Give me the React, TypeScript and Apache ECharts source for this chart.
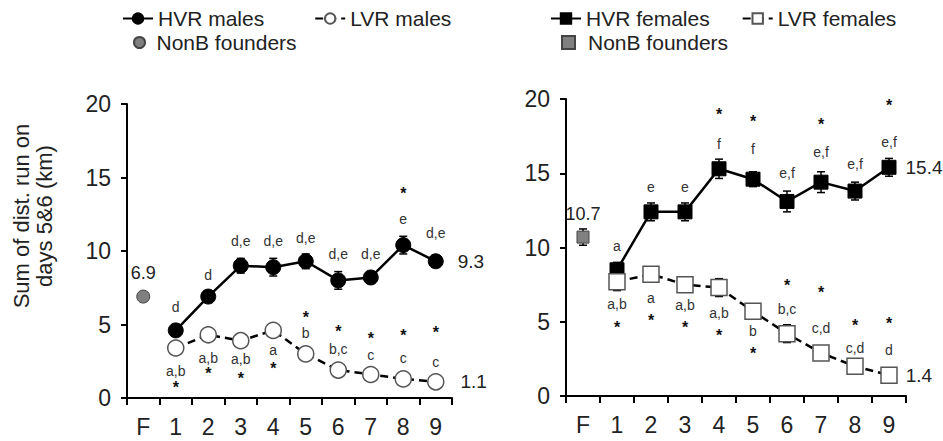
import React, { useEffect, useRef } from "react";
import * as echarts from "echarts";

const categories = ["F", "1", "2", "3", "4", "5", "6", "7", "8", "9"];
const yTicks = { min: 0, max: 20, interval: 5 };

// Males (left panel), generations 1..9
const hvrMales = [4.6, 6.9, 9.0, 8.9, 9.3, 8.0, 8.2, 10.4, 9.3];
const hvrMalesErr = [0.4, 0.4, 0.5, 0.6, 0.5, 0.6, 0.4, 0.6, 0.4];
const lvrMales = [3.4, 4.3, 3.9, 4.6, 3.0, 1.9, 1.6, 1.3, 1.1];
const lvrMalesErr = [0.3, 0.3, 0.3, 0.3, 0.3, 0.2, 0.2, 0.2, 0.2];
const nonbMales = 6.9;
const nonbMalesErr = 0.3;

// Females (right panel)
const hvrFemales = [8.5, 12.4, 12.4, 15.3, 14.6, 13.1, 14.4, 13.8, 15.4];
const hvrFemalesErr = [0.5, 0.6, 0.6, 0.65, 0.5, 0.7, 0.7, 0.6, 0.6];
const lvrFemales = [7.7, 8.2, 7.5, 7.3, 5.7, 4.2, 2.9, 2.0, 1.4];
const lvrFemalesErr = [0.6, 0.5, 0.3, 0.6, 0.4, 0.6, 0.3, 0.3, 0.3];
const nonbFemales = 10.7;
const nonbFemalesErr = 0.55;

// significance letters: [category, y, text]
const maleLetters: [string, number, string][] = [
  ["1", 6.2, "d"], ["2", 8.4, "d"], ["3", 10.7, "d,e"], ["4", 10.7, "d,e"], ["5", 10.9, "d,e"],
  ["6", 9.8, "d,e"], ["7", 9.8, "d,e"], ["8", 12.2, "e"], ["9", 11.2, "d,e"],
  ["1", 1.84, "a,b"], ["2", 2.7, "a,b"], ["3", 2.63, "a,b"], ["4", 3.24, "a"], ["5", 4.4, "b"],
  ["6", 3.3, "b,c"], ["7", 2.9, "c"], ["8", 2.7, "c"], ["9", 2.45, "c"],
];
const maleStars: [string, number][] = [
  ["8", 14.05],
  ["1", 0.86], ["2", 1.8], ["3", 1.43], ["4", 2.16], ["5", 5.6],
  ["6", 4.67], ["7", 4.2], ["8", 4.4], ["9", 4.56],
];
const femaleLetters: [string, number, string][] = [
  ["1", 10.1, "a"], ["2", 14.1, "e"], ["3", 14.1, "e"], ["4", 17.0, "f"], ["5", 16.6, "f"],
  ["6", 15.0, "e,f"], ["7", 16.4, "e,f"], ["8", 15.6, "e,f"], ["9", 17.1, "e,f"],
  ["1", 6.2, "a,b"], ["2", 6.57, "a"], ["3", 6.1, "a,b"], ["4", 5.56, "a,b"], ["5", 4.36, "b"],
  ["6", 5.83, "b,c"], ["7", 4.6, "c,d"], ["8", 3.24, "c,d"], ["9", 3.08, "d"],
];
const femaleStars: [string, number][] = [
  ["4", 19.06], ["5", 18.65], ["7", 18.4], ["9", 19.7],
  ["1", 4.77], ["2", 5.2], ["3", 4.77], ["4", 4.2], ["5", 2.97],
  ["6", 7.6], ["7", 7.1], ["8", 4.9], ["9", 5.04],
];

const FONT = "'Liberation Sans', Arial, Helvetica, sans-serif";
const TXT = "#222";

export default function App() {
  const ref = useRef<HTMLDivElement>(null);
  useEffect(() => {
    if (!ref.current) return;
    const chart = echarts.init(ref.current, null, { renderer: "svg" });

    const errSeries = (name: string, vals: number[], errs: number[], xi: number, offset: number) => ({
      type: "custom",
      name,
      xAxisIndex: xi,
      yAxisIndex: xi,
      z: 1,
      silent: true,
      encode: { x: 0, y: [1, 2] },
      data: vals.map((v, i) => [i + offset, v - errs[i], v + errs[i]]),
      renderItem: (params: any, api: any) => {
        const x = api.value(0);
        const lo = api.coord([x, api.value(1)]);
        const hi = api.coord([x, api.value(2)]);
        const w = 4;
        const st = { stroke: "#000", lineWidth: 1.5 };
        return {
          type: "group",
          children: [
            { type: "line", shape: { x1: lo[0], y1: lo[1], x2: hi[0], y2: hi[1] }, style: st },
            { type: "line", shape: { x1: lo[0] - w, y1: lo[1], x2: lo[0] + w, y2: lo[1] }, style: st },
            { type: "line", shape: { x1: hi[0] - w, y1: hi[1], x2: hi[0] + w, y2: hi[1] }, style: st },
          ],
        };
      },
    });

    const lineData = (vals: number[], labelDist: number) => [
      null,
      ...vals.map((v, i) =>
        i === vals.length - 1
          ? {
              value: v,
              label: {
                show: true,
                position: "right",
                distance: labelDist,
                formatter: String(v),
                fontSize: 19,
                color: TXT,
                fontFamily: FONT,
              },
            }
          : v
      ),
    ];

    const lineSeries = (
      name: string,
      vals: number[],
      xi: number,
      symbol: string,
      size: number,
      open: boolean,
      labelDist: number,
      z: number
    ) => ({
      type: "line",
      name,
      xAxisIndex: xi,
      yAxisIndex: xi,
      z,
      symbol,
      symbolSize: size,
      showAllSymbol: true,
      data: lineData(vals, labelDist),
      lineStyle: { color: "#000", width: 2.5, type: open ? [8, 5] : "solid" },
      itemStyle: open
        ? { color: "#fff", borderColor: "#555", borderWidth: 1.5, opacity: 1 }
        : { color: "#000", borderColor: "#000", borderWidth: 1, opacity: 1 },
    });

    const nonbSeries = (v: number, xi: number, symbol: string, size: number) => ({
      type: "scatter",
      name: "NonB founders",
      xAxisIndex: xi,
      yAxisIndex: xi,
      z: 2,
      symbol,
      symbolSize: size,
      itemStyle: { color: "#808080", borderColor: "#444", borderWidth: 1, opacity: 1 },
      data: [
        {
          value: [0, v],
          label: {
            show: true,
            position: "top",
            distance: 8,
            formatter: String(v),
            fontSize: 18,
            color: TXT,
            fontFamily: FONT,
          },
        },
      ],
    });

    const textSeries = (
      items: [string, number, string][],
      xi: number,
      fontSize: number,
      color: string,
      dy: number,
      weight: string
    ) => ({
      type: "scatter",
      xAxisIndex: xi,
      yAxisIndex: xi,
      z: 5,
      silent: true,
      symbolSize: 1,
      itemStyle: { color: "rgba(0,0,0,0)", opacity: 1 },
      data: items.map((it) => ({
        value: [categories.indexOf(it[0]), it[1]],
        label: {
          show: true,
          position: "inside",
          offset: [0, dy],
          formatter: it[2],
          fontSize,
          fontWeight: weight,
          color,
          opacity: 1,
          textBorderWidth: 0,
          fontFamily: FONT,
        },
      })),
    });

    const starsToText = (s: [string, number][]): [string, number, string][] =>
      s.map((x) => [x[0], x[1], "*"]);

    const xAxisBase = (gi: number) => ({
      type: "category",
      gridIndex: gi,
      data: categories,
      boundaryGap: true,
      axisLine: { lineStyle: { color: "#000", width: 2 } },
      axisTick: { show: true, length: 7, interval: 0, lineStyle: { color: "#000", width: 2 } },
      axisLabel: { fontSize: 23, color: TXT, margin: 17, interval: 0, fontFamily: FONT },
      splitLine: { show: false },
    });
    const yAxisBase = (gi: number) => ({
      type: "value",
      gridIndex: gi,
      min: yTicks.min,
      max: yTicks.max,
      interval: yTicks.interval,
      axisLine: { show: true, lineStyle: { color: "#000", width: 2 } },
      axisTick: { show: true, length: 6, lineStyle: { color: "#000", width: 2 } },
      axisLabel: { fontSize: 23, color: TXT, margin: 16, fontFamily: FONT },
      splitLine: { show: false },
    });

    const legendBase = {
      orient: "horizontal",
      itemWidth: 30,
      itemHeight: 13,
      selectedMode: false,
      textStyle: { fontSize: 21, color: TXT, fontFamily: FONT },
    };

    chart.setOption({
      animation: false,
      backgroundColor: "#fff",
      textStyle: { fontFamily: FONT },
      grid: [
        { left: 127, top: 104, width: 325, height: 294 },
        { left: 566, top: 99, width: 340, height: 297 },
      ],
      xAxis: [xAxisBase(0), xAxisBase(1)],
      yAxis: [yAxisBase(0), yAxisBase(1)],
      legend: [
        { ...legendBase, left: 117, top: 3, itemGap: 50, data: ["HVR males", "LVR males"] },
        {
          ...legendBase,
          left: 128,
          top: 27,
          itemWidth: 14,
          itemHeight: 11,
          textStyle: { ...legendBase.textStyle, padding: [0, 0, 0, 5] },
          data: [{ name: "NonB founders", icon: "circle" }],
        },
        { ...legendBase, left: 545, top: 3, itemGap: 32, data: ["HVR females", "LVR females"] },
        {
          ...legendBase,
          left: 556,
          top: 27,
          itemWidth: 13,
          itemHeight: 13,
          textStyle: { ...legendBase.textStyle, padding: [0, 0, 0, 8] },
          data: [{ name: "NonB founders", icon: "rect" }],
        },
      ],
      graphic: [
        {
          type: "text",
          x: 33,
          y: 216,
          rotation: Math.PI / 2,
          style: {
            text: "Sum of dist. run on\ndays 5&6 (km)",
            fontSize: 22,
            lineHeight: 23,
            fill: TXT,
            fontFamily: FONT,
            align: "center",
            verticalAlign: "middle",
          },
        },
      ],
      series: [
        errSeries("errHM", hvrMales, hvrMalesErr, 0, 1),
        errSeries("errLM", lvrMales, lvrMalesErr, 0, 1),
        errSeries("errNM", [nonbMales], [nonbMalesErr], 0, 0),
        lineSeries("HVR males", hvrMales, 0, "circle", 15, false, 14, 2),
        lineSeries("LVR males", lvrMales, 0, "circle", 16, true, 16, 3),
        nonbSeries(nonbMales, 0, "circle", 13),
        textSeries(maleLetters, 0, 14, "#333", 0, "normal"),
        textSeries(starsToText(maleStars), 0, 16, "#111", 2, "bold"),

        errSeries("errHF", hvrFemales, hvrFemalesErr, 1, 1),
        errSeries("errLF", lvrFemales, lvrFemalesErr, 1, 1),
        errSeries("errNF", [nonbFemales], [nonbFemalesErr], 1, 0),
        lineSeries("HVR females", hvrFemales, 1, "rect", 14, false, 9, 2),
        lineSeries("LVR females", lvrFemales, 1, "rect", 16, true, 8, 3),
        nonbSeries(nonbFemales, 1, "rect", 12),
        textSeries(femaleLetters, 1, 14, "#333", 0, "normal"),
        textSeries(starsToText(femaleStars), 1, 16, "#111", 2, "bold"),
      ],
    });
    return () => chart.dispose();
  }, []);
  return (
    <div
      ref={ref}
      style={{ position: "absolute", left: 0, top: 0, width: 943, height: 441, background: "#fff" }}
    />
  );
}
